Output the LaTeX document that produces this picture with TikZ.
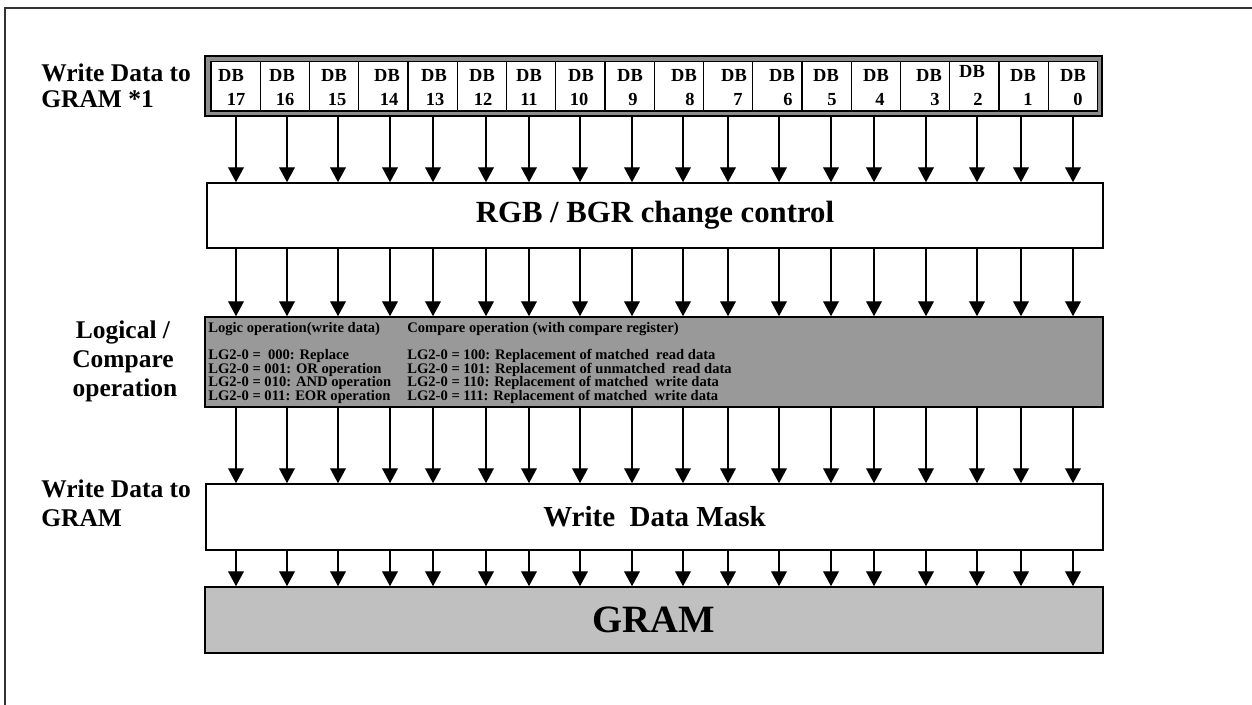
\documentclass[tikz,border=0pt]{standalone}
\usepackage{fontspec}
\setmainfont{Liberation Serif}
\usetikzlibrary{arrows.meta}
\definecolor{bandgray}{HTML}{8C8C8C}
\definecolor{logicgray}{HTML}{999999}
\definecolor{gramgray}{HTML}{C0C0C0}
\begin{document}
\begin{tikzpicture}[x=0.02cm, y=-0.02cm, font=\bfseries,
  box/.style={draw, line width=0.9pt, inner sep=0pt},
  cellbox/.style={draw, fill=white, line width=0.6pt, inner sep=0pt,
    minimum width={49.25*0.02cm}, minimum height={49.5*0.02cm}},
  dbfont/.style={anchor=base, inner sep=0pt, font=\bfseries\fontsize{10.5}{12}\selectfont},
  sidelabel/.style={inner sep=0pt, font=\bfseries\fontsize{14.5}{15}\selectfont},
  optext/.style={anchor=base west, inner sep=0pt, font=\bfseries\fontsize{8.3}{9}\selectfont},
  flow/.style={-{Triangle[width=9pt,length=8.5pt]}, line width=0.8pt}]
\useasboundingbox (0,0) rectangle (1252,705);
\clip (0,0) rectangle (1252,705);
\fill[white] (0,0) rectangle (1252,705);

% outer frame (runs off the page to the right and bottom)
\draw[line width=0.9pt, black!80] (5,720) -- (5,8) -- (1270,8);

% data bus register DB17..DB0
\node[draw, fill=bandgray, line width=0.6pt, inner sep=0pt,
  minimum width={897*0.02cm}, minimum height={60*0.02cm}] (reg) at (653.5,86) {};
\foreach \i in {0,...,17} {
  \pgfmathsetmacro{\cx}{211+(17-\i+0.5)*49.25}
  \node[cellbox] (db\i) at (\cx,86.25) {};
}
\foreach \i/\a/\d/\n/\yb in {17/236/231/236/82, 16/287/282/285/82, 15/338/334/337/82,
    14/390/387/389/82, 13/433/434/435/82, 12/486/482/483/82, 11/529/529/529/82,
    10/580/581/579/82, 9/632/630/633/82, 8/683/684/690/82, 7/728/734/738/82,
    6/779/782/788/82, 5/831/826/832/82, 4/874/876/880/82, 3/926/929/935/82,
    2/977/972/978/78, 1/1021/1023/1028/82, 0/1073/1073/1078/82} {
  \node[dbfont] (dbt\i) at (\d,\yb) {DB};
  \node[dbfont] (dbn\i) at (\n,105.5) {\i};
  \coordinate (col\i) at (\a,0);
}

% processing stages
\node[box, minimum width={896*0.02cm}, minimum height={65*0.02cm},
  font=\bfseries\fontsize{17.5}{20}\selectfont] (rgb) at (655,215.5) {RGB / BGR change control};
\node[box, fill=logicgray, minimum width={898*0.02cm}, minimum height={90*0.02cm}] (logic) at (654,362) {};
\node[box, minimum width={897*0.02cm}, minimum height={66*0.02cm},
  font=\bfseries\fontsize{16.5}{19}\selectfont] (mask) at (654.5,517) {Write\ \ Data Mask};
\node[box, fill=gramgray, minimum width={898*0.02cm}, minimum height={66*0.02cm},
  font=\bfseries\fontsize{22}{26}\selectfont] (gram) at (654,620) {GRAM};

% operation tables inside the logic stage
\foreach \y/\t [count=\k] in {333/{Logic operation(write data)},
    360/{LG2-0 =\ \ 000: Replace}, 373.4/{LG2-0 = 001: OR operation},
    386.8/{LG2-0 = 010: AND operation}, 400.2/{LG2-0 = 011: EOR operation}} {
  \node[optext] (lt\k) at (208,\y) {\t};
}
\foreach \y/\t [count=\k] in {333/{Compare operation (with compare register)},
    360/{LG2-0 = 100: Replacement of matched\ \ read data},
    373.4/{LG2-0 = 101: Replacement of unmatched\ \ read data},
    386.8/{LG2-0 = 110: Replacement of matched\ \ write data},
    400.2/{LG2-0 = 111: Replacement of matched\ \ write data}} {
  \node[optext] (rt\k) at (407,\y) {\t};
}

% side labels
\node[sidelabel, anchor=base west] (wa1) at (41,82) {Write Data to};
\node[sidelabel, anchor=base west] (wa2) at (41,108) {GRAM *1};
\node[sidelabel, anchor=base] (lc1) at (123,339) {Logical /};
\node[sidelabel, anchor=base] (lc2) at (123,368) {Compare};
\node[sidelabel, anchor=base] (lc3) at (125,397) {operation};
\node[sidelabel, anchor=base west] (wb1) at (41,498) {Write Data to};
\node[sidelabel, anchor=base west] (wb2) at (41,527) {GRAM};

% data flow between the stages
\foreach \i in {0,...,17} {
  \draw[flow] (col\i |- reg.south) -- (col\i |- rgb.north);
  \draw[flow] (col\i |- rgb.south) -- (col\i |- logic.north);
  \draw[flow] (col\i |- logic.south) -- (col\i |- mask.north);
  \draw[flow] (col\i |- mask.south) -- (col\i |- gram.north);
}
\end{tikzpicture}
\end{document}
